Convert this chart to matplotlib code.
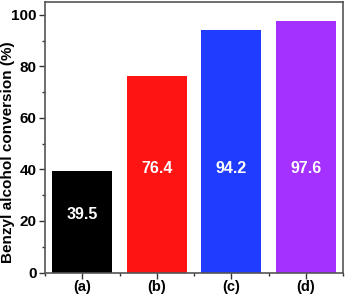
import matplotlib
matplotlib.use("Agg")
import matplotlib.pyplot as plt
from matplotlib.ticker import MultipleLocator

categories = ["(a)", "(b)", "(c)", "(d)"]
values = [39.5, 76.4, 94.2, 97.6]
labels = ["39.5", "76.4", "94.2", "97.6"]
colors = ["#000000", "#ff1414", "#1f3cff", "#a431ff"]
label_y = [22.4, 40.3, 40.3, 40.3]

plt.rcParams['font.family'] = ['Liberation Sans', 'DejaVu Sans']
plt.rcParams['font.weight'] = 'bold'

fig = plt.figure(figsize=(3.46, 2.96), dpi=100)
ax = fig.add_axes([45/346, 1 - 272.5/296, 298/346, 270.5/296])
x = list(range(len(categories)))
ax.bar(x, values, width=0.8, color=colors, edgecolor='none')
for xi, ly, t in zip(x, label_y, labels):
    ax.text(xi, ly, t, color='white', ha='center', va='center', fontsize=11.5, fontweight='bold')

ax.set_xlim(-0.5, 3.5)
ax.set_ylim(0, 105)
ax.set_xticks(x)
ax.set_xticklabels(categories, fontsize=10.5, fontweight='bold')
ax.xaxis.set_minor_locator(MultipleLocator(0.5))
ax.yaxis.set_major_locator(MultipleLocator(20))
ax.yaxis.set_minor_locator(MultipleLocator(10))
ax.tick_params(axis='both', which='major', direction='out', length=4, width=1, labelsize=11, color='#333333', pad=2)
ax.tick_params(axis='x', which='major', labelsize=10.5, pad=1.5)
ax.tick_params(axis='both', which='minor', direction='out', length=2, width=1, color='#333333')
for lab in ax.get_yticklabels():
    lab.set_fontweight('bold')
ax.set_ylabel("Benzyl alcohol conversion (%)", fontsize=11, fontweight='bold')
ax.yaxis.set_label_coords(-0.1, 0.445)
for s in ax.spines.values():
    s.set_color('#555555')
    s.set_linewidth(1.2)

fig.savefig("out.png", dpi=100)
